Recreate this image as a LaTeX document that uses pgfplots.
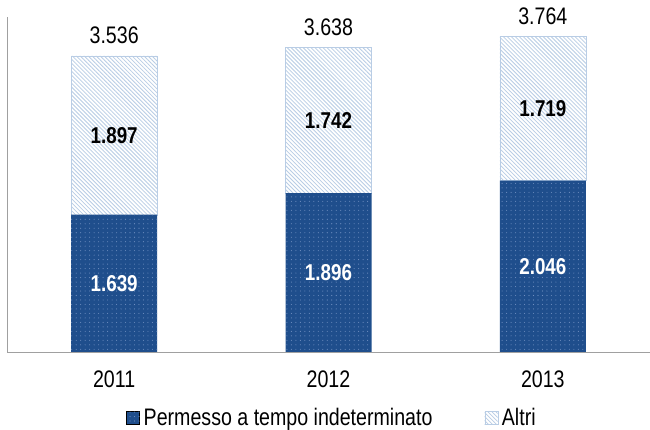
\documentclass[border=0pt]{standalone}
\usepackage{pgfplots}
\pgfplotsset{compat=1.18}
\usepackage{pgfplotstable}
\usepackage{fontspec}
\setmainfont[FakeStretch=0.82]{Liberation Sans}
\usetikzlibrary{patterns}

\definecolor{dblue}{HTML}{1F4E8C}
\definecolor{dotc}{HTML}{6F8FC0}
\definecolor{lblue}{HTML}{B9CDE5}
\definecolor{axgray}{HTML}{A0A0A0}

% sparser patterns than the tikz defaults
\pgfdeclarepatternformonly{sparsedots}{\pgfqpoint{-1pt}{-1pt}}{\pgfqpoint{1pt}{1pt}}{\pgfqpoint{4.5pt}{4.5pt}}%
{\pgfpathcircle{\pgfqpoint{0pt}{0pt}}{0.55pt}\pgfusepath{fill}}
\pgfdeclarepatternformonly{nwlines}{\pgfqpoint{-1pt}{-1pt}}{\pgfqpoint{5pt}{5pt}}{\pgfqpoint{4pt}{4pt}}%
{\pgfsetlinewidth{0.8pt}\pgfpathmoveto{\pgfqpoint{0pt}{4pt}}\pgfpathlineto{\pgfqpoint{4pt}{0pt}}\pgfusepath{stroke}}

\pgfplotstableread{
x base altri
0 1639 1897
1 1896 1742
2 2046 1719
}\bars

% label positions: middle of each segment, and the totals on top
\pgfplotstableread{
x y label
0 819.5 1.639
1 948 1.896
2 1023 2.046
}\baselabels
\pgfplotstableread{
x y label
0 2587.5 1.897
1 2767 1.742
2 2905.5 1.719
}\altrilabels
\pgfplotstableread{
x y label
0 3536 3.536
1 3638 3.638
2 3765 3.764
}\totals

\begin{document}
\begin{tikzpicture}
\useasboundingbox (0,0) rectangle (650bp,430bp);
\begin{axis}[
    at={(7bp,78bp)}, anchor=south west,
    scale only axis, width=643bp, height=335bp,
    ybar stacked, bar width=86bp,
    xmin=-0.5, xmax=2.5, ymin=0, ymax=4000,
    axis x line*=bottom, axis y line*=left,
    axis line style={axgray, line width=0.8pt},
    xtick=data, xticklabels={2011,2012,2013},
    major tick length=0pt, ytick=\empty,
    xticklabel style={font=\fontsize{24}{28}\selectfont, yshift=-15bp},
    legend style={at={(0.507,-0.197)}, anchor=center, draw=none,
        font=\fontsize{24}{28}\selectfont, legend columns=2,
        nodes={inner xsep=4bp},
        /tikz/every even column/.append style={column sep=48bp}},
    legend image code/.code={\draw[#1] (0bp,-6.5bp) rectangle (13bp,6.5bp);},
]
\addplot[fill=dblue, draw=none, postaction={pattern=sparsedots, pattern color=dotc}]
    table[x=x, y=base] {\bars};
\addplot[fill=white, draw=lblue, line width=0.4pt, postaction={pattern=nwlines, pattern color=lblue}]
    table[x=x, y=altri] {\bars};
\legend{Permesso a tempo indeterminato, Altri}
\end{axis}
\begin{axis}[
    at={(7bp,78bp)}, anchor=south west,
    scale only axis, width=643bp, height=335bp,
    xmin=-0.5, xmax=2.5, ymin=0, ymax=4000,
    hide axis, clip=false,
    nodes near coords, point meta=explicit symbolic,
]
\addplot[only marks, mark=none, nodes near coords align=center,
    every node near coord/.append style={anchor=center, text=white, font=\bfseries\fontsize{23}{26}\selectfont}]
    table[x=x, y=y, meta=label] {\baselabels};
\addplot[only marks, mark=none, nodes near coords align=center,
    every node near coord/.append style={anchor=center, text=black, font=\bfseries\fontsize{23}{26}\selectfont}]
    table[x=x, y=y, meta=label] {\altrilabels};
\addplot[only marks, mark=none,
    every node near coord/.append style={anchor=base, yshift=12bp, text=black, font=\fontsize{24}{28}\selectfont}]
    table[x=x, y=y, meta=label] {\totals};
\end{axis}
\end{tikzpicture}
\end{document}
